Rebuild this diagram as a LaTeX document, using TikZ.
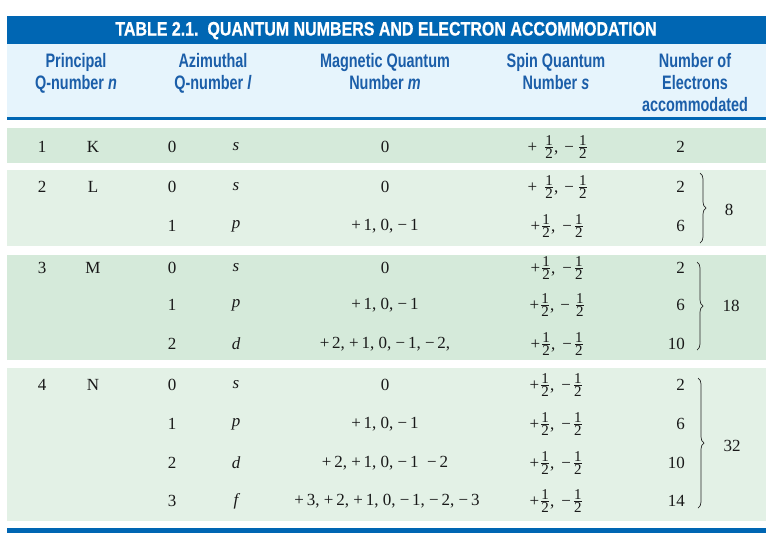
\documentclass[tikz,border=0pt]{standalone}
\usepackage{amsmath}
\usepackage{fontspec}
\setmainfont{Liberation Serif}
\newfontfamily\hdrfont[FakeStretch=0.74]{Liberation Sans}
\newfontfamily\ttlfont[FakeStretch=0.82,FakeBold=0.6]{Liberation Sans}
\usetikzlibrary{decorations.pathreplacing}
\definecolor{barblue}{HTML}{0066B3}
\definecolor{hdrbg}{HTML}{E6F4FC}
\definecolor{hdrtxt}{HTML}{1B5EA9}
\definecolor{bandA}{HTML}{D5EADA}
\definecolor{bandB}{HTML}{E3F1E6}
\newcommand{\fdig}[1]{\hbox{\fontsize{15}{15}\selectfont #1}}
\newcommand{\hf}{$\genfrac{}{}{0.6pt}{1}{\fdig{1}}{\fdig{2}}$}
\newcommand{\spinw}{+\hspace{7pt}\hf,\hspace{6pt}−\hspace{4pt}\hf}
\newcommand{\spinn}{+\hspace{1pt}\hf,\hspace{7pt}−\hspace{2pt}\hf}
\newcommand{\spinm}{+\hspace{1pt}\hf,\hspace{6pt}−\hspace{5pt}\hf}
\tikzset{
  cell/.style={font=\fontsize{17}{20}\selectfont, inner sep=0pt, text=black!90},
  lt/.style={cell, font=\fontsize{17}{20}\selectfont\itshape},
  ne/.style={cell, anchor=east},
  hd/.style={font=\hdrfont\fontsize{19.5}{22}\selectfont\bfseries, text=hdrtxt, inner sep=0pt, anchor=base},
  ttl/.style={font=\ttlfont\fontsize{19.5}{22}\selectfont\bfseries, text=white, inner sep=0pt, anchor=base},
  brc/.style={decorate, decoration={brace, amplitude=6pt}, line width=0.7pt, black!85},
}
\begin{document}
\begin{tikzpicture}[x=1pt,y=-1pt]
\useasboundingbox (0,0) rectangle (771,539);
\fill[white] (0,0) rectangle (771,539);
% title bar and header
\fill[barblue] (7,16) rectangle (766,44);
\fill[hdrbg] (7,44) rectangle (766,117);
\fill[barblue] (7,117) rectangle (766,120);
\node[ttl] (title) at (386,35.5) {TABLE 2.1.\ \ QUANTUM NUMBERS AND ELECTRON ACCOMMODATION};
% header texts
\node[hd] (h1a) at (76,67) {Principal};
\node[hd] (h1b) at (76,89) {Q-number \textit{n}};
\node[hd] (h2a) at (213,67) {Azimuthal};
\node[hd] (h2b) at (213,89) {Q-number \textit{l}};
\node[hd] (h3a) at (385,67) {Magnetic Quantum};
\node[hd] (h3b) at (385,89) {Number \textit{m}};
\node[hd] (h4a) at (556,67) {Spin Quantum};
\node[hd] (h4b) at (556,89) {Number \textit{s}};
\node[hd] (h5a) at (695,67) {Number of};
\node[hd] (h5b) at (695,89) {Electrons};
\node[hd] (h5c) at (695,111) {accommodated};
% bands
\fill[bandA] (7,128) rectangle (766,163);
\fill[bandB] (7,170) rectangle (766,246);
\fill[bandA] (7,255) rectangle (766,360);
\fill[bandB] (7,368) rectangle (766,521);
\fill[barblue] (7,528) rectangle (766,533);
% K
\node[cell] (kn) at (42,147) {1};
\node[cell] (ks) at (93,147) {K};
\node[cell] (kl) at (172,147) {0};
\node[lt] (kll) at (236,147) {s};
\node[cell] (km) at (385,147) {0};
\node[ne] (ksp) at (588,147) {\spinw};
\node[ne] (ke) at (685,147) {2};
% L
\node[cell] (ln) at (42,187) {2};
\node[cell] (ls) at (93,187) {L};
\node[cell] (l0) at (172,187) {0};
\node[lt] (l0l) at (236,187) {s};
\node[cell] (l0m) at (385,187) {0};
\node[ne] (l0sp) at (588,187) {\spinw};
\node[ne] (l0e) at (685,187) {2};
\node[cell] (l1) at (172,226) {1};
\node[lt] (l1l) at (236,226) {p};
\node[cell] (l1m) at (385,226) {+\,1, 0, −\,1};
\node[ne] (l1sp) at (584,226) {\spinn};
\node[ne] (l1e) at (685,226) {6};
% M
\node[cell] (mn) at (42,268) {3};
\node[cell] (ms) at (93,268) {M};
\node[cell] (m0) at (172,268) {0};
\node[lt] (m0l) at (236,268) {s};
\node[cell] (m0m) at (385,268) {0};
\node[ne] (m0sp) at (584,268) {\spinn};
\node[ne] (m0e) at (685,268) {2};
\node[cell] (m1) at (172,305) {1};
\node[lt] (m1l) at (236,305) {p};
\node[cell] (m1m) at (385,305) {+\,1, 0, −\,1};
\node[ne] (m1sp) at (585,305) {\spinm};
\node[ne] (m1e) at (685,305) {6};
\node[cell] (m2) at (172,344) {2};
\node[lt] (m2l) at (236,344) {d};
\node[cell] (m2m) at (385,344) {+\,2, +\,1, 0, −\,1, −\,2,};
\node[ne] (m2sp) at (584,344) {\spinn};
\node[ne] (m2e) at (685,344) {10};
% N
\node[cell] (nn) at (42,385) {4};
\node[cell] (ns) at (93,385) {N};
\node[cell] (n0) at (172,385) {0};
\node[lt] (n0l) at (236,385) {s};
\node[cell] (n0m) at (385,385) {0};
\node[ne] (n0sp) at (583,385) {\spinn};
\node[ne] (n0e) at (685,385) {2};
\node[cell] (n1) at (172,424) {1};
\node[lt] (n1l) at (236,424) {p};
\node[cell] (n1m) at (385,424) {+\,1, 0, −\,1};
\node[ne] (n1sp) at (583,424) {\spinn};
\node[ne] (n1e) at (685,424) {6};
\node[cell] (n2) at (172,463) {2};
\node[lt] (n2l) at (236,463) {d};
\node[cell] (n2m) at (385,463) {+\,2, +\,1, 0, −\,1\ \ −\,2};
\node[ne] (n2sp) at (583,463) {\spinn};
\node[ne] (n2e) at (685,463) {10};
\node[cell] (n3) at (172,501) {3};
\node[lt] (n3l) at (236,501) {f};
\node[cell] (n3m) at (387,501) {+\,3, +\,2, +\,1, 0, −\,1, −\,2, −\,3};
\node[ne] (n3sp) at (583,501) {\spinn};
\node[ne] (n3e) at (685,501) {14};
% braces
\coordinate (bL1) at (700,173);
\coordinate (bL2) at (700,243);
\coordinate (bM1) at (697,262);
\coordinate (bM2) at (697,350);
\coordinate (bN1) at (698,378);
\coordinate (bN2) at (698,508);
\draw[brc] (bL1) -- (bL2);
\draw[brc] (bM1) -- (bM2);
\draw[brc] (bN1) -- (bN2);
\node[cell] (tL) at (729,210) {8};
\node[cell] (tM) at (731,306) {18};
\node[cell] (tN) at (732,446) {32};
\end{tikzpicture}
\end{document}
